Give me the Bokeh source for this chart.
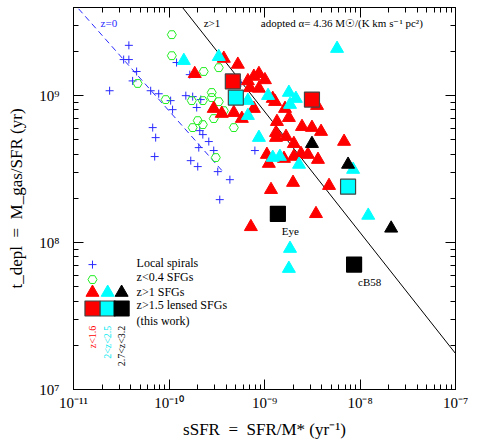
import math
from bokeh.plotting import figure
from bokeh.models import FixedTicker, LogAxis
from bokeh.core.properties import value
from bokeh.embed import file_html
from bokeh.resources import INLINE

# ---------------- data ----------------
local_ssfr = [3.8e-11, 3.35e-11, 3.8e-11, 4.58e-11, 4.16e-11, 2.39e-11, 6.43e-11, 7.8e-11,
              1.04e-10, 1.09e-10, 1.2e-10, 1.65e-10, 1.5e-10, 1.77e-10, 2.15e-10, 1.95e-10,
              6.75e-11, 7.25e-11, 7.08e-11, 2.1e-10, 2.26e-10, 2.61e-10, 2.05e-10, 2.94e-10,
              1.69e-10, 2.0e-10, 3.24e-10, 4.34e-10, 3.4e-10, 5.65e-10, 7.93e-10]
local_tdepl = [2.2e9, 1.76e9, 1.76e9, 1.46e9, 1.26e9, 1.08e9, 1.08e9, 1.03e9,
               9.25e8, 8.03e8, 1.68e9, 1.39e9, 1.0e9, 9.85e8, 9.4e8, 8.3e8,
               6.06e8, 5.18e8, 3.85e8, 5.78e8, 5.43e8, 4.87e8, 4.43e8, 4.23e8,
               3.61e8, 3.29e8, 3.04e8, 2.68e8, 1.96e8, 1.22e9, 4.23e8]

lowz_ssfr = [1.07e-10, 1.07e-10, 2.31e-10, 3.32e-10, 4.7e-11, 9.23e-11, 2.8e-10, 2.8e-10,
             1.73e-10, 2.26e-10, 3.32e-10, 3.75e-10, 2.94e-10, 2.0e-10, 2.26e-10, 1.77e-10,
             4.77e-10, 3.09e-10]
lowz_tdepl = [2.6e9, 1.87e9, 1.46e9, 1.55e9, 1.21e9, 9.4e8, 1.05e9, 9.7e8,
              9.25e8, 9.25e8, 9.1e8, 7.9e8, 6.98e8, 6.76e8, 6.35e8, 6.06e8,
              6.06e8, 3.79e8]

hiz_red_ssfr = [1.86e-10, 3.75e-10, 5.26e-10, 2.94e-10, 3.57e-10, 4.77e-10, 5.79e-10, 6.7e-10,
                7.74e-10, 8.74e-10, 1.01e-9, 7.03e-10, 8.74e-10, 1.22e-9, 1.29e-9, 7.74e-10,
                1.64e-9, 1.8e-9, 1.35e-9, 2.47e-9, 3.14e-9, 3.91e-9, 1.32e-9, 1.32e-9,
                1.68e-9, 2.03e-9, 1.06e-9, 1.11e-9, 1.6e-9, 2.03e-9, 2.41e-9, 2.85e-9,
                3.63e-9, 6.81e-9, 1.99e-9, 1.17e-9, 4.74e-9, 3.46e-9, 7.2e-10, 3.55e-9]
hiz_red_tdepl = [1.41e9, 1.79e9, 1.63e9, 8.16e8, 7.55e8, 7.66e8, 6.98e8, 1.26e9,
                 1.35e9, 1.41e9, 1.28e9, 1.13e9, 1.12e9, 9.55e8, 9.1e8, 8.16e8,
                 8.16e8, 7.08e8, 6.65e8, 6.15e8, 6.06e8, 5.69e8, 5.6e8, 5.18e8,
                 5.26e8, 4.71e8, 3.97e8, 3.45e8, 3.73e8, 3.85e8, 4.03e8, 3.97e8,
                 3.67e8, 4.87e8, 2.56e8, 2.29e8, 2.44e8, 1.57e8, 1.28e8, 8.55e8]

hiz_cyan_ssfr = [1.43e-10, 3.32e-10, 5.75e-9, 1.8e-9, 1.09e-9, 2.13e-9, 1.85e-9, 6.7e-10,
                 6.7e-10, 8.74e-10, 1.22e-9, 1.45e-9, 2.3e-9, 8.47e-9, 1.22e-8, 1.85e-9, 1.8e-9]
hiz_cyan_tdepl = [1.73e9, 1.84e9, 2.09e9, 1.05e9, 1.0e9, 9.55e8, 8.69e8, 9.25e8,
                  7.31e8, 5.18e8, 3.79e8, 3.85e8, 3.4e8, 3.14e8, 1.53e8, 9.1e7, 6.65e7]

hiz_black_ssfr = [3.14e-9, 7.5e-9, 2.12e-8]
hiz_black_tdepl = [4.71e8, 3.4e8, 1.25e8]

lensed_red_ssfr = [4.66e-10, 3.14e-9]
lensed_red_tdepl = [1.25e9, 9.4e8]
lensed_cyan_ssfr = [5.01e-10, 7.5e-9]
lensed_cyan_tdepl = [9.7e8, 2.4e8]
lensed_black_ssfr = [1.38e-9, 8.67e-9]
lensed_black_tdepl = [1.57e8, 7.08e7]
lensed_black_names = ["Eye", "cB58"]

# reference relations
zgt1_line_ssfr = [1.39e-10, 1.02e-7]
zgt1_line_tdepl = [3.97e9, 1.73e7]
z0_line_ssfr = [1.13e-11, 3.75e-10]
z0_line_tdepl = [3.9e9, 2.99e8]

# ticks
x_ticks = [1e-11, 1e-10, 1e-9, 1e-8, 1e-7]
x_tick_labels = ["10⁻¹¹", "10⁻¹⁰", "10⁻⁹", "10⁻⁸", "10⁻⁷"]
y_ticks = [1e7, 1e8, 1e9]
y_tick_labels = ["10⁷", "10⁸", "10⁹"]
x_minor = [m * 10.0 ** e for e in range(-11, -7) for m in range(1, 10)]
y_minor = [m * 10.0 ** e for e in range(7, 10) for m in range(1, 10)]

x_title = "sSFR\u2002=\u2002SFR/M* (yr⁻¹)"
y_title = "t_depl\u2002=\u2002M_gas/SFR (yr)"

# legend
legend_col_x = [1.58e-11, 2.28e-11, 3.19e-11]
legend_marker_y = [7.08e7, 5.6e7, 4.57e7, 3.56e7]
legend_text_x = 4.58e-11
legend_text_y = [7.31e7, 5.87e7, 4.64e7, 3.73e7, 2.94e7]
legend_texts = ["Local spirals", "z<0.4 SFGs", "z>1 SFGs", "z>1.5 lensed SFGs", "(this work)"]
bin_labels = ["z<1.6", "2<z<2.5", "2.7<z<3.2"]
bin_colors = ["#ff0000", "#00e8f0", "#000000"]
bin_label_y = 2.72e7

RED = "#ff0000"
CYAN = "#00ffff"
BLUE = "#2a2aff"
GREEN = "#22ee22"
FONT = "Liberation Serif"

p = figure(width=490, height=442, x_axis_type="log", y_axis_type="log",
           x_range=(1e-11, 1e-7), y_range=(1e7, 3.98e9),
           output_backend="svg", toolbar_location=None,
           min_border_left=73, min_border_right=35, min_border_top=7, min_border_bottom=53)
p.grid.visible = False
p.outline_line_color = "black"
p.background_fill_color = "white"

xt = FixedTicker(ticks=x_ticks, minor_ticks=x_minor)
yt = FixedTicker(ticks=y_ticks, minor_ticks=y_minor)
p.xaxis.ticker = xt
p.yaxis.ticker = yt
p.xaxis.major_label_overrides = dict(zip(x_ticks, x_tick_labels))
p.yaxis.major_label_overrides = dict(zip(y_ticks, y_tick_labels))

def style_axis(ax):
    ax.major_tick_in = 10
    ax.major_tick_out = 0
    ax.minor_tick_in = 5
    ax.minor_tick_out = 0
    ax.axis_line_color = "black"
    ax.major_tick_line_color = "black"
    ax.minor_tick_line_color = "black"
    ax.major_label_text_font = FONT
    ax.major_label_text_font_size = "15px"
    ax.major_label_text_color = "black"

for ax in p.xaxis + p.yaxis:
    style_axis(ax)
    ax.axis_label_text_font = FONT
    ax.axis_label_text_font_size = "17px"
    ax.axis_label_text_font_style = "normal"
    ax.axis_label_text_color = "black"
p.xaxis.major_label_standoff = 5
p.yaxis.major_label_standoff = 14
p.xaxis.axis_label = x_title
p.yaxis.axis_label = y_title
p.xaxis.axis_label_standoff = 6
p.yaxis.axis_label_standoff = 10

top_ax = LogAxis(ticker=FixedTicker(ticks=x_ticks, minor_ticks=x_minor))
right_ax = LogAxis(ticker=FixedTicker(ticks=y_ticks, minor_ticks=y_minor))
for ax in (top_ax, right_ax):
    style_axis(ax)
    ax.major_label_text_font_size = "2px"
    ax.major_label_text_alpha = 0
    ax.major_label_standoff = 0
p.add_layout(top_ax, "above")
p.add_layout(right_ax, "right")

# relations
p.line(zgt1_line_ssfr, zgt1_line_tdepl, line_color="black", line_width=1)
p.line(z0_line_ssfr, z0_line_tdepl, line_color=BLUE, line_width=1, line_dash="6 4")

# data
p.scatter(local_ssfr, local_tdepl, marker="cross", size=8, line_color=BLUE, line_width=1)
p.scatter(lowz_ssfr, lowz_tdepl, marker="hex", size=9, line_color=GREEN, fill_color=None, line_width=1)
p.scatter(hiz_red_ssfr, hiz_red_tdepl, marker="triangle", size=13, fill_color=RED, line_color=RED)
p.scatter(hiz_cyan_ssfr, hiz_cyan_tdepl, marker="triangle", size=13, fill_color=CYAN, line_color=CYAN)
p.scatter(hiz_black_ssfr, hiz_black_tdepl, marker="triangle", size=13, fill_color="black", line_color="black")
p.scatter(lensed_red_ssfr, lensed_red_tdepl, marker="square", size=15, fill_color=RED, line_color="#444444", line_width=1.2)
p.scatter(lensed_cyan_ssfr, lensed_cyan_tdepl, marker="square", size=15, fill_color=CYAN, line_color="#444444", line_width=1.2)
p.scatter(lensed_black_ssfr, lensed_black_tdepl, marker="square", size=15, fill_color="black", line_color="black", line_width=1.2)
p.text(lensed_black_ssfr, lensed_black_tdepl, text=lensed_black_names, x_offset=4, y_offset=17,
       text_font=value(FONT), text_font_size="11px", text_align="left", text_baseline="middle", text_color="black")

# top annotations
p.text([1.92e-11], [3.14e9], text=["z=0"], text_font=value(FONT), text_font_size="11px",
       text_color=BLUE, text_baseline="middle", text_align="left")
p.text([2.31e-10], [3.14e9], text=["z>1"], text_font=value(FONT), text_font_size="11px",
       text_color="black", text_baseline="middle", text_align="left")
p.text([9.16e-10], [3.14e9], text=["adopted α= 4.36 M☉/(K km s⁻¹ pc²)"], text_font=value(FONT),
       text_font_size="11px", text_color="black", text_baseline="middle", text_align="left")

# legend
p.scatter([legend_col_x[0]], [legend_marker_y[0]], marker="cross", size=8, line_color=BLUE, line_width=1)
p.scatter([legend_col_x[0]], [legend_marker_y[1]], marker="hex", size=9, line_color=GREEN, fill_color=None)
p.scatter(legend_col_x, [legend_marker_y[2]] * 3, marker="triangle", size=13,
          fill_color=[RED, CYAN, "black"], line_color=[RED, CYAN, "black"])
p.scatter(legend_col_x, [legend_marker_y[3]] * 3, marker="square", size=15,
          fill_color=[RED, CYAN, "black"], line_color=["#444444", "#444444", "black"], line_width=1.2)
p.text([legend_text_x] * len(legend_texts), legend_text_y, text=legend_texts, text_font=value(FONT),
       text_font_size="12px", text_color="black", text_baseline="middle", text_align="left")
p.text(legend_col_x, [bin_label_y] * 3, text=bin_labels, angle=math.pi / 2, text_font=value(FONT),
       text_font_size="10px", text_color=bin_colors, text_baseline="middle", text_align="right")

open("out.html", "w").write(file_html(p, INLINE))
